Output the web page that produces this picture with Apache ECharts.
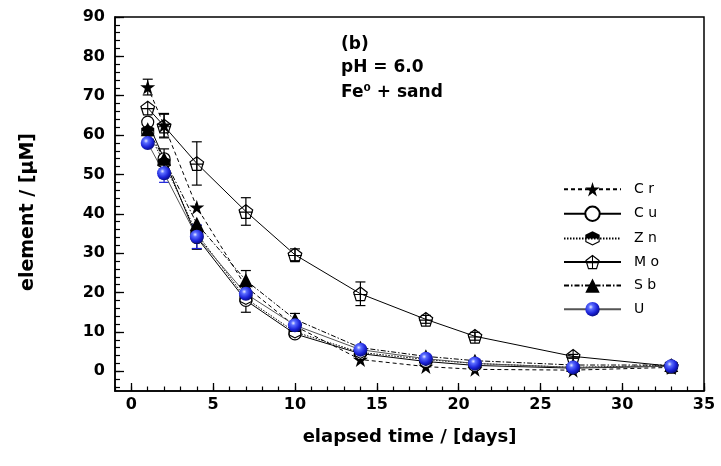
<!DOCTYPE html>
<html>
<head>
<meta charset="utf-8">
<script src="https://cdn.jsdelivr.net/npm/echarts@6/dist/echarts.min.js"></script>
<style>html,body{margin:0;padding:0;background:#fff}#c{width:721px;height:466px}</style>
</head>
<body>
<div id="c"></div>
<script>
const days = [1, 2, 4, 7, 10, 14, 18, 21, 27, 33];
const cr = [72.2, 62.5, 41.7, 21.5, 11.5, 3.0, 1.2, 0.5, 0.3, 1.0];
const cu = [63.3, 54.0, 34.0, 18.0, 9.5, 4.5, 2.5, 1.5, 0.8, 1.3];
const zn = [61.0, 53.0, 35.0, 18.5, 10.0, 4.8, 3.0, 2.0, 1.0, 1.5];
const mo = [66.9, 62.3, 52.8, 40.6, 29.6, 19.7, 13.2, 8.9, 3.8, 1.3];
const sb = [61.5, 54.0, 37.5, 23.1, 13.2, 6.0, 3.8, 2.7, 1.6, 1.6];
const u  = [58.0, 50.3, 34.2, 19.7, 11.7, 5.5, 3.2, 2.0, 1.0, 1.3];

const crErr = [2, 3, 0, 0, 0, 0, 0, 0, 0, 0];
const cuErr = [0, 0, 3, 3, 0.8, 0, 0, 0, 0, 0];
const znErr = [0, 0, 0, 0, 0, 0, 0, 0, 0, 0];
const moErr = [0, 3, 5.5, 3.5, 1.5, 3, 1, 1, 0.5, 0];
const sbErr = [0, 2.5, 0, 2.5, 1.5, 0, 0, 0, 0, 0];
const uErr  = [0, 2.3, 3, 2.5, 1, 0, 0, 0, 0, 0];

const names = ['Cr', 'Cu', 'Zn', 'Mo', 'Sb', 'U'];
const xLabelTicks = [0, 5, 10, 15, 20, 25, 30, 35];
const yLabelTicks = [0, 10, 20, 30, 40, 50, 60, 70, 80, 90];

const xMinor = []; for (let i = -1; i <= 35; i++) xMinor.push(i);
const yMinor = []; for (let i = -4; i <= 90; i += 2) yMinor.push(i);

const STAR = 'path://M50 0 L61.17 34.63 L97.55 34.55 L68.07 55.87 L79.39 90.45 L50 69 L20.61 90.45 L31.93 55.87 L2.45 34.55 L38.83 34.63 Z';
const HEXHALF = 'path://M50 0 L93 25 L93 75 L50 100 L7 75 L7 25 Z M50 9 L13.5 30 L13.5 70 L50 91 L86.5 70 L86.5 30 Z M7 25 L50 0 L93 25 L93 50 L7 50 Z';
const PENTCROSS = 'path://M50 0 L97.55 34.55 L79.39 90.45 L20.61 90.45 L2.45 34.55 Z M50 9 L11.5 37 L26 83 L74 83 L88.5 37 Z M6 46 L94 46 L94 53 L6 53 Z M46.5 2 L53.5 2 L53.5 88 L46.5 88 Z';

const ball = {type: 'radial', x: 0.38, y: 0.35, r: 0.65, colorStops: [
  {offset: 0, color: '#e8ecff'}, {offset: 0.25, color: '#5a6cff'}, {offset: 0.7, color: '#1b22d8'}, {offset: 1, color: '#0a0f8a'}]};

function pts(arr) { return days.map((d, i) => [d, arr[i]]); }
function errPts(arr, err) { return days.map((d, i) => [d, arr[i], err[i]]).filter(p => p[2] > 0); }

function errSeries(arr, err, color) {
  return {
    type: 'custom', silent: true, z: 3,
    data: errPts(arr, err),
    encode: {x: 0, y: 1},
    renderItem: function (params, api) {
      const x = api.value(0), y = api.value(1), e = api.value(2);
      const top = api.coord([x, y + e]);
      const bot = api.coord([x, y - e]);
      const w = 5;
      const st = {stroke: color, lineWidth: 1.2};
      return {type: 'group', children: [
        {type: 'line', shape: {x1: top[0], y1: top[1], x2: bot[0], y2: bot[1]}, style: st},
        {type: 'line', shape: {x1: top[0] - w, y1: top[1], x2: top[0] + w, y2: top[1]}, style: st},
        {type: 'line', shape: {x1: bot[0] - w, y1: bot[1], x2: bot[0] + w, y2: bot[1]}, style: st}
      ]};
    }
  };
}

function lineSeries(name, arr, symbol, size, itemStyle, lineStyle) {
  return {
    name: name, type: 'line', data: pts(arr), symbol: symbol, symbolSize: size,
    showAllSymbol: true, z: 4,
    itemStyle: itemStyle, lineStyle: Object.assign({width: 1}, lineStyle),
    emphasis: {disabled: true}
  };
}

const FONT = 'DejaVu Sans';
const chart = echarts.init(document.getElementById('c'), null, {renderer: 'canvas'});
chart.setOption({
  animation: false,
  backgroundColor: '#fff',
  grid: {left: 115, top: 17, width: 589, height: 374, show: true, borderColor: '#000', borderWidth: 1.5, backgroundColor: 'transparent'},
  xAxis: [{
    type: 'value', min: -1, max: 35,
    axisLine: {show: true, onZero: false, lineStyle: {color: '#000', width: 1.5}},
    axisTick: {show: true, inside: true, length: 8, customValues: xLabelTicks, lineStyle: {color: '#000', width: 1.3}},
    axisLabel: {show: true, customValues: xLabelTicks, margin: 6, color: '#000', fontFamily: FONT, fontWeight: 'bold', fontSize: 16},
    splitLine: {show: false},
    name: 'elapsed time / [days]', nameLocation: 'middle', nameGap: 37,
    nameTextStyle: {color: '#000', fontFamily: FONT, fontWeight: 'bold', fontSize: 18}
  }, {
    type: 'value', min: -1, max: 35, position: 'bottom',
    axisLine: {show: false, onZero: false},
    axisTick: {show: true, inside: true, length: 4.5, customValues: xMinor, lineStyle: {color: '#000', width: 1.2}},
    axisLabel: {show: false}, splitLine: {show: false}
  }],
  yAxis: [{
    type: 'value', min: -5, max: 90,
    axisLine: {show: true, onZero: false, lineStyle: {color: '#000', width: 1.5}},
    axisTick: {show: true, inside: true, length: 9, customValues: yLabelTicks, lineStyle: {color: '#000', width: 1.3}},
    axisLabel: {show: true, customValues: yLabelTicks, margin: 10, color: '#000', fontFamily: FONT, fontWeight: 'bold', fontSize: 16},
    splitLine: {show: false}
  }, {
    type: 'value', min: -5, max: 90, position: 'left',
    axisLine: {show: false, onZero: false},
    axisTick: {show: true, inside: true, length: 5, customValues: yMinor, lineStyle: {color: '#000', width: 1.2}},
    axisLabel: {show: false}, splitLine: {show: false}
  }],
  legend: {
    data: names, orient: 'vertical', left: 558, top: 177, itemWidth: 57, itemHeight: 18, itemGap: 9.2,
    formatter: n => n.split('').join(' '),
    textStyle: {color: '#000', fontFamily: FONT, fontSize: 14, padding: [0, 0, 0, 8]},
    selectedMode: false
  },
  graphic: [
    {type: 'text', left: 341, top: 36, style: {text: '(b)', font: 'bold 17px "DejaVu Sans"', fill: '#000'}},
    {type: 'text', left: 341, top: 59, style: {text: 'pH = 6.0', font: 'bold 17px "DejaVu Sans"', fill: '#000'}},
    {type: 'text', left: 341, top: 84, style: {text: 'Fe\u2070 + sand', font: 'bold 17px "DejaVu Sans"', fill: '#000'}},
    {type: 'text', x: 28, y: 212, rotation: Math.PI / 2, style: {text: 'element / [\u00b5M]', font: 'bold 19px "DejaVu Sans"', fill: '#000', align: 'center', verticalAlign: 'middle'}}
  ],
  series: [
    lineSeries('Cr', cr, STAR, 15, {color: '#000'}, {color: '#000', type: [4, 3]}),
    lineSeries('Cu', cu, 'circle', 12, {color: '#fff', borderColor: '#000', borderWidth: 1.2}, {color: '#000', type: 'solid'}),
    lineSeries('Zn', zn, HEXHALF, 13, {color: '#000'}, {color: '#000', type: [1.5, 1.5]}),
    lineSeries('Mo', mo, PENTCROSS, 15, {color: '#000'}, {color: '#000', type: 'solid'}),
    lineSeries('Sb', sb, 'triangle', 14, {color: '#000'}, {color: '#000', type: [5, 2, 1.5, 2]}),
    lineSeries('U', u, 'circle', 14, {color: ball}, {color: '#555', type: 'solid'}),
    errSeries(cr, crErr, '#000'),
    errSeries(cu, cuErr, '#000'),
    errSeries(zn, znErr, '#000'),
    errSeries(mo, moErr, '#000'),
    errSeries(sb, sbErr, '#000'),
    errSeries(u, uErr, '#1b22d8')
  ]
});
</script>
</body>
</html>
